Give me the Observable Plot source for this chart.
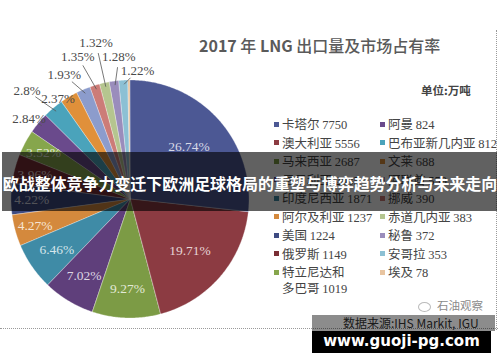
<!DOCTYPE html>
<html>
<head>
<meta charset="utf-8">
<script src="https://cdn.jsdelivr.net/npm/d3@7"></script>
<script src="https://cdn.jsdelivr.net/npm/@observablehq/plot@0.6"></script>
<style>
  html, body { margin: 0; padding: 0; background: #fff; }
  #wrap { position: relative; width: 500px; height: 362px; overflow: hidden; background: #fff;
          font-family: "Noto Sans CJK SC", "Noto Sans", sans-serif; }
  #wrap svg { position: absolute; left: 0; top: 0; }
  .abs { position: absolute; white-space: nowrap; }
  .num { font-family: "Liberation Serif", "DejaVu Serif", serif; }
</style>
</head>
<body>
<div id="wrap"></div>
<script>
// ---- data (2017 LNG exports, 万吨) ----
const countries = ["卡塔尔","澳大利亚","马来西亚","尼日利亚","印度尼西亚","阿尔及利亚","美国","俄罗斯","特立尼达和多巴哥",
                   "阿曼","巴布亚新几内亚","文莱","阿联酋","挪威","赤道几内亚","秘鲁","安哥拉","埃及"];
const exportsWt = [7750,5556,2687,2035,1871,1237,1224,1149,1019,824,812,688,559,390,383,372,353,78];
const shareLabels = ["26.74%","19.71%","9.27%","7.02%","6.46%","4.27%","4.22%","3.96%","3.52%",
                     "2.84%","2.8%","2.37%","1.93%","1.35%","1.32%","1.28%","1.22%",""];
const sliceColors = ["#4c5894","#8c3b42","#7c9b45","#5f3f7b","#3f8ba6","#d4893d","#3e4b82","#7a2e35","#86a64c",
                     "#6a4a8c","#4aa3bb","#e0903a","#8c9ccc","#cc7c78","#b5c58f","#9a8dbc","#8cc0d4","#e8c4a0"];
const titleText = "2017 年 LNG 出口量及市场占有率";
const unitText = "单位:万吨";
const bannerText = "欧战整体竞争力变迁下欧洲足球格局的重塑与博弈趋势分析与未来走向";
const sourceText = "数据来源:IHS Markit, IGU";
const brandText = "石油观察";
const siteText = "www.guoji-pg.com";

// ---- layout constants ----
const outerReach = [1.09, 1.26, 1.04, 1.185, 1.28, 1.345, 1.2, 1.085];

const slices = countries.map((name, i) => ({name, value: exportsWt[i], color: sliceColors[i], label: shareLabels[i]}));
const total = d3.sum(exportsWt);
const arcs = d3.pie().sort(null).value(d => d.value)(slices);
const mid = a => (a.startAngle + a.endAngle) / 2;

const wedgePts = arcs.flatMap(a => {
  const n = Math.max(2, Math.ceil((a.endAngle - a.startAngle) / 0.01));
  return d3.range(n + 1).map(k => {
    const t = a.startAngle + (a.endAngle - a.startAngle) * k / n;
    return {name: a.data.name, color: a.data.color, x1: Math.sin(t), y1: Math.cos(t), x2: 0, y2: 0};
  });
});

const inner = arcs.filter(a => a.data.label && a.data.value / total > 0.03).map(a => {
  const s = a.data.value / total;
  const rho = s > 0.15 ? 0.66 : s > 0.05 ? 0.75 : 0.83;
  return {x: rho * Math.sin(mid(a)), y: rho * Math.cos(mid(a)), text: a.data.label,
          fill: d3.interpolateRgb(a.data.color, "#fff")(0.78)};
});

const outerArcs = arcs.filter(a => a.data.label && a.data.value / total <= 0.03);
const aStart = mid(outerArcs[0]) - 0.02, aEnd = mid(outerArcs[outerArcs.length - 1]) + 0.11;
const outer = outerArcs.map((a, k) => {
  const t = aStart + (aEnd - aStart) * k / (outerArcs.length - 1);
  const r = outerReach[k];
  const lx = r * Math.sin(t), ly = r * Math.cos(t);
  const m = mid(a);
  const ex = 0.97 * Math.sin(m), ey = 0.97 * Math.cos(m);
  const dx = ex - lx, dy = ey - ly, d = Math.hypot(dx, dy);
  return {lx, ly, text: a.data.label, ex, ey, sx: lx + dx / d * 0.085, sy: ly + dy / d * 0.085, long: d > 0.12};
});

const chart = Plot.plot({
  width: 500, height: 362,
  marginLeft: 11, marginRight: 251, marginTop: 80, marginBottom: 44,
  x: {domain: [-1, 1], axis: null},
  y: {domain: [-1, 1], axis: null},
  color: {type: "identity"},
  style: {background: "transparent", overflow: "visible"},
  marks: [
    Plot.area(wedgePts, {x1: "x1", y1: "y1", x2: "x2", y2: "y2", z: "name", fill: "color",
                         stroke: "#fff", strokeWidth: 0.5, strokeOpacity: 0.6, curve: "linear"}),
    Plot.link(outer.filter(d => d.long), {x1: "ex", y1: "ey", x2: "sx", y2: "sy", stroke: "#555", strokeWidth: 0.8}),
    Plot.text(inner, {x: "x", y: "y", text: "text", fill: "fill", fontSize: 13.5,
                      fontFamily: "Liberation Serif, DejaVu Serif, serif"}),
    Plot.text(outer, {x: "lx", y: "ly", text: "text", fill: "#4a4a4a", fontSize: 13,
                      fontFamily: "Liberation Serif, DejaVu Serif, serif"})
  ]
});

const wrap = document.getElementById("wrap");
wrap.appendChild(chart);

function addDiv(html, style) {
  const el = document.createElement("div");
  el.className = "abs";
  el.innerHTML = html;
  Object.assign(el.style, style);
  wrap.appendChild(el);
  return el;
}

// title & unit
addDiv(titleText.replace(/(\d+|LNG)/g, '<b style="font-weight:700">$1</b>'),
  {left: "199px", top: "33px", fontSize: "16px", lineHeight: "24px", color: "#5a5a5a", fontWeight: "500",
   fontFamily: "'Noto Sans CJK SC', sans-serif"});
addDiv(unitText, {left: "421px", top: "82px", fontSize: "11.5px", lineHeight: "16px", color: "#444", fontWeight: "700"});

// legend
slices.forEach((s, i) => {
  const col = Math.floor(i / 9), row = i % 9;
  const cy = 124 + row * 18.5;
  const sqX = col === 0 ? 274 : 380;
  addDiv("", {left: sqX + "px", top: (cy - 2.5) + "px", width: "5px", height: "5px", background: s.color});
  const name = s.name.length > 7 ? s.name.slice(0, 5) + "<br>" + s.name.slice(5) : s.name;
  addDiv(name + ' <span class="num">' + s.value + '</span>',
    {left: (sqX + 8) + "px", top: (cy - 8) + "px", fontSize: "12.5px", lineHeight: "16px", color: "#444"});
});

// dotted frame
addDiv("", {left: "496px", top: "30px", width: "0", height: "300px", borderRight: "1.5px dotted #9a9a9a"});
addDiv("", {left: "0px", top: "328px", width: "498px", height: "0", borderBottom: "1.5px dotted #9a9a9a"});

// brand + source
addDiv('<span style="display:inline-block;width:11px;height:8px;border:1px solid #bbb;border-radius:50%;margin-right:6px;vertical-align:middle"></span>' + brandText,
  {left: "418px", top: "297px", fontSize: "11.5px", lineHeight: "16px", color: "#8a8a8a"});
addDiv(sourceText, {left: "343px", top: "315px", fontSize: "12px", lineHeight: "16px", color: "#333",
  fontFamily: "'Noto Sans CJK SC', 'Liberation Serif', serif"});

// banner overlay
addDiv("", {left: "2px", top: "152px", width: "495px", height: "59px", background: "rgba(0,0,0,0.62)"});
addDiv(bannerText, {left: "0px", top: "172px", width: "500px", textAlign: "center", fontSize: "16px",
  lineHeight: "22px", color: "#fff", fontWeight: "700", letterSpacing: "-0.05px"});

// watermark boxes
addDiv("", {left: "312px", top: "315px", width: "183px", height: "16px", background: "rgba(0,0,0,0.45)"});
addDiv(siteText, {left: "312px", top: "331px", width: "179px", height: "22px", background: "#000",
  color: "#fff", textAlign: "center", fontSize: "15px", lineHeight: "20px", fontWeight: "700",
  fontFamily: "'DejaVu Sans', sans-serif"});
</script>
</body>
</html>
